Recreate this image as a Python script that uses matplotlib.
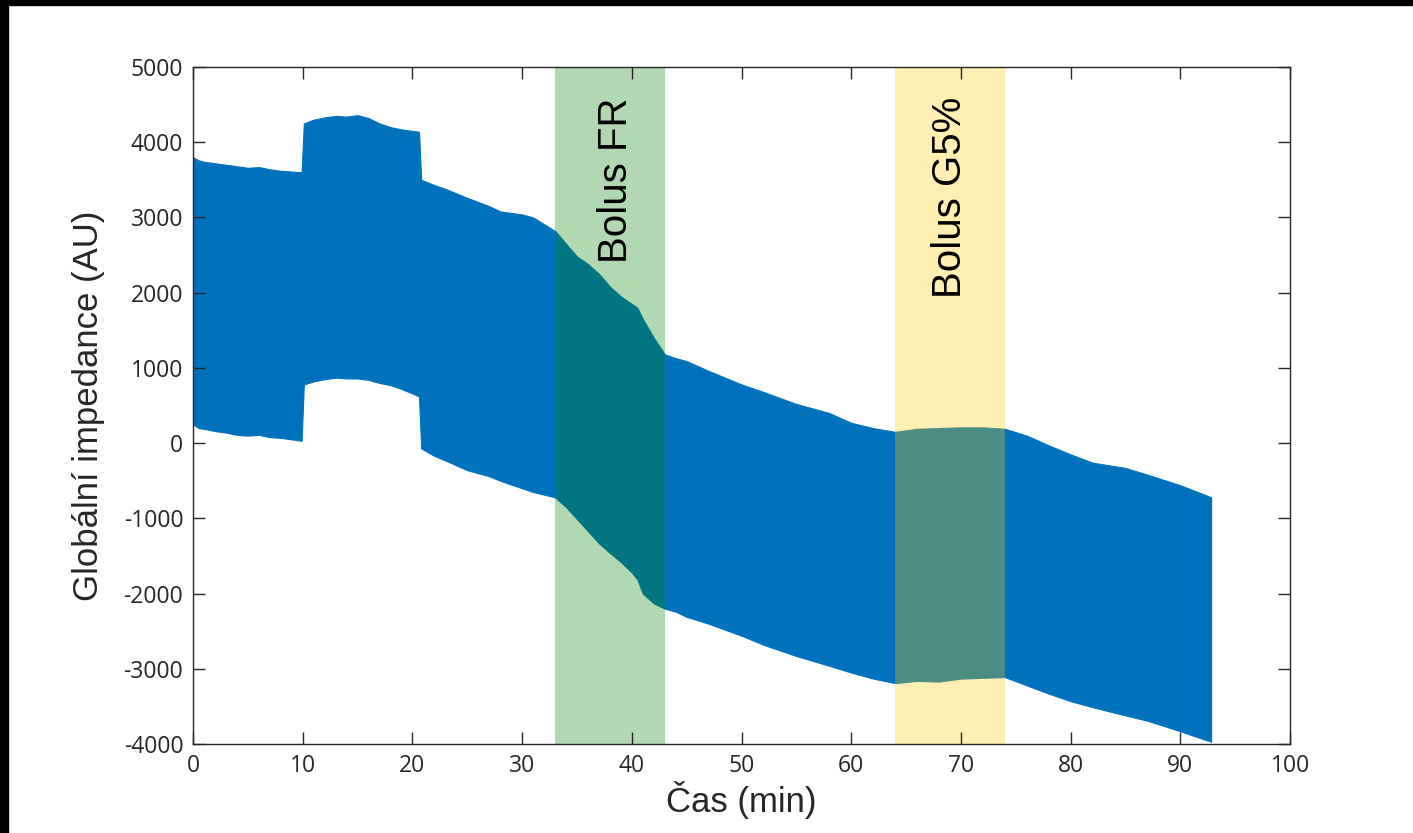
import numpy as np
import matplotlib.pyplot as plt
from matplotlib.patches import Rectangle

plt.rcParams['axes.unicode_minus'] = False

# envelope of the impedance signal (min, AU)
t_env = [0, 0.5, 1, 2, 3, 4, 5, 6, 7, 8, 9, 9.9, 10.1, 11, 12, 13, 14, 15, 16, 17, 18, 19, 20, 20.6, 20.8,
         22, 23, 25, 27, 28, 30, 31, 33,
         34, 35, 36, 37, 38, 39, 40, 40.5, 41, 42, 43, 44, 45, 47, 50, 52, 55, 58, 60, 62, 64,
         66, 68, 70, 72, 74, 76, 78, 80, 82, 85, 87, 90, 92.8]
upper = [3800, 3760, 3740, 3720, 3700, 3680, 3660, 3670, 3640, 3620, 3610, 3600, 4250, 4300, 4330, 4350,
         4340, 4360, 4320, 4250, 4200, 4170, 4150, 4140, 3500,
         3430, 3380, 3260, 3150, 3080, 3040, 3000, 2820,
         2650, 2480, 2380, 2250, 2080, 1950, 1850, 1800, 1650, 1400, 1180, 1130, 1090, 960, 780, 680, 520,
         400, 270, 200, 150,
         190, 200, 210, 210, 190, 100, -30, -150, -260, -330, -420, -560, -720]
lower = [250, 200, 190, 160, 140, 110, 100, 110, 80, 70, 50, 30, 780, 820, 850, 870,
         860, 860, 840, 800, 770, 720, 660, 620, -70,
         -170, -230, -360, -440, -500, -600, -650, -720,
         -850, -1010, -1170, -1330, -1460, -1580, -1720, -1810, -2000, -2130, -2200, -2240, -2310, -2400,
         -2560, -2680, -2830, -2960, -3050, -3130, -3190,
         -3160, -3170, -3130, -3120, -3110, -3220, -3330, -3430, -3510, -3620, -3690, -3830, -3970]

bolus_fr = (33, 43)
bolus_g5 = (64, 74)

fig = plt.figure(figsize=(14.13, 8.33), dpi=100)
ax = fig.add_axes([0.1366, 0.1068, 0.7764, 0.8128])

blue = '#0072BD'
ax.fill_between(t_env, lower, upper, color=blue, lw=0.8, edgecolor=blue)

ax.axvspan(bolus_fr[0], bolus_fr[1], color=(0, 0.5, 0), alpha=0.3, lw=0)
ax.axvspan(bolus_g5[0], bolus_g5[1], color=(1, 0.8, 0), alpha=0.3, lw=0)

ax.text(sum(bolus_fr) / 2 + 0.6, 4600, 'Bolus FR', rotation=90, ha='center', va='top',
        fontsize=29, family='Liberation Sans')
ax.text(sum(bolus_g5) / 2, 4600, 'Bolus G5%', rotation=90, ha='center', va='top',
        fontsize=29, family='Liberation Sans')

ax.set_xlim(0, 100)
ax.set_ylim(-4000, 5000)
ax.set_xticks(np.arange(0, 101, 10))
ax.set_yticks(np.arange(-4000, 5001, 1000))

ax.tick_params(direction='in', length=8.6, width=1, top=True, right=True,
               colors='#262626', labelsize=16.5, pad=7)
for lab in ax.get_xticklabels() + ax.get_yticklabels():
    lab.set_family('Open Sans')
for sp in ax.spines.values():
    sp.set_color('#262626')
    sp.set_linewidth(1)

ax.set_xlabel('Čas (min)', fontsize=25, family='Liberation Sans', color='#262626', labelpad=2)
ax.set_ylabel('Globální impedance (AU)', fontsize=25, family='Liberation Sans', color='#262626', labelpad=13)

# dark frame strips along top and left edge
fig.patches.append(Rectangle((0, 1 - 5 / 833), 1, 5 / 833, transform=fig.transFigure,
                             color='black', zorder=10))
fig.patches.append(Rectangle((0, 0), 8 / 1413, 1, transform=fig.transFigure,
                             color='black', zorder=10))

fig.savefig('out.png', dpi=100)
